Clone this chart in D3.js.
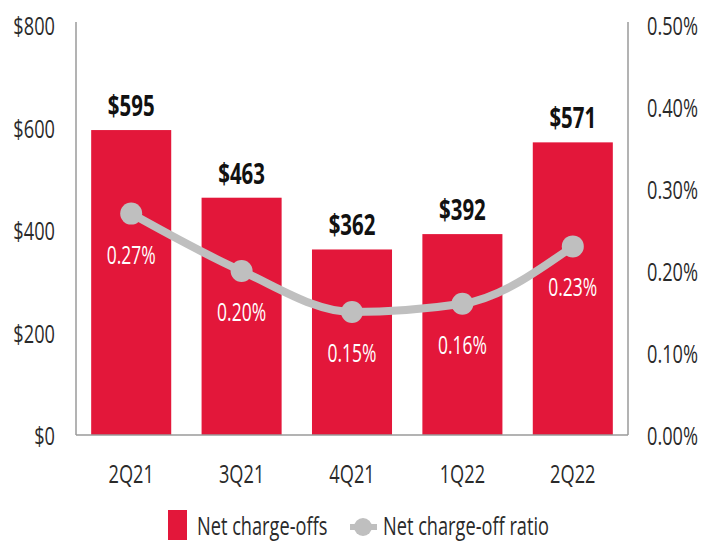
<!DOCTYPE html>
<html><head><meta charset="utf-8">
<script src="https://cdn.jsdelivr.net/npm/d3@7"></script>
<style>
html,body{margin:0;padding:0;background:#fff;}
text{font-family:"Open Sans",sans-serif;}
</style></head><body>
<svg id="c" width="702" height="543"></svg>
<script>
const categories = ["2Q21","3Q21","4Q21","1Q22","2Q22"];
const chargeOffs = [595,463,362,392,571];
const chargeOffLabels = ["$595","$463","$362","$392","$571"];
const ratios = [0.27,0.20,0.15,0.16,0.23];
const ratioLabels = ["0.27%","0.20%","0.15%","0.16%","0.23%"];
const leftTicks = [0,200,400,600,800];
const leftTickLabels = ["$0","$200","$400","$600","$800"];
const rightTicks = [0,0.1,0.2,0.3,0.4,0.5];
const rightTickLabels = ["0.00%","0.10%","0.20%","0.30%","0.40%","0.50%"];
const legendLabels = ["Net charge-offs","Net charge-off ratio"];

const RED = "#e3173a", GRAY = "#bfbfbf", TXT = "#2a2a2a";
const svg = d3.select("#c");
const x0 = 76, x1 = 628, yTop = 25, yBot = 435;
const x = d3.scaleBand().domain(categories).range([x0,x1]).paddingInner(0.275).paddingOuter(0.1375);
const yL = d3.scaleLinear().domain([0,800]).range([yBot,yTop]);
const yR = d3.scaleLinear().domain([0,0.5]).range([yBot,yTop]);

function cond(sel, f){
  sel.each(function(){
    const t = d3.select(this);
    const px = +t.attr("x"), py = +t.attr("y");
    t.attr("x",0).attr("y",0).attr("transform",`translate(${px},${py}) scale(${f},1)`);
  });
}
const F = 0.7;

// axes lines
svg.append("line").attr("x1",x0).attr("x2",x0).attr("y1",22).attr("y2",yBot).attr("stroke","#9a9a9a").attr("stroke-width",1.5);
svg.append("line").attr("x1",x1).attr("x2",x1).attr("y1",22).attr("y2",yBot).attr("stroke","#9a9a9a").attr("stroke-width",1.5);

// bars
svg.selectAll("rect.bar").data(categories).join("rect").attr("class","bar")
  .attr("x",d=>x(d)).attr("width",x.bandwidth())
  .attr("y",(d,i)=>yL(chargeOffs[i])).attr("height",(d,i)=>yBot-yL(chargeOffs[i]))
  .attr("fill",RED);
svg.append("line").attr("x1",x0).attr("x2",x1).attr("y1",yBot).attr("y2",yBot).attr("stroke","#9a9a9a").attr("stroke-width",1.5);

// value labels
svg.selectAll("text.val").data(categories).join("text").attr("class","val")
  .attr("x",d=>x(d)+x.bandwidth()/2).attr("y",(d,i)=>yL(chargeOffs[i])-14)
  .attr("text-anchor","middle").attr("font-size",28).attr("font-weight","bold").attr("fill","#111")
  .text((d,i)=>chargeOffLabels[i]).call(cond,0.73);

// line
const pts = categories.map((c,i)=>[x(c)+x.bandwidth()/2, yR(ratios[i])]);
svg.append("path").attr("d",d3.line().curve(d3.curveMonotoneX)(pts))
  .attr("fill","none").attr("stroke",GRAY).attr("stroke-width",8).attr("stroke-linecap","round");
svg.selectAll("circle.pt").data(pts).join("circle").attr("class","pt")
  .attr("cx",d=>d[0]).attr("cy",d=>d[1]).attr("r",11).attr("fill",GRAY);
svg.selectAll("text.pct").data(pts).join("text").attr("class","pct")
  .attr("x",d=>d[0]).attr("y",d=>d[1]+50)
  .attr("text-anchor","middle").attr("font-size",25).attr("fill","#fff")
  .text((d,i)=>ratioLabels[i]).call(cond,F);

// left tick labels
svg.selectAll("text.lt").data(leftTicks).join("text").attr("class","lt")
  .attr("x",55).attr("y",d=>yL(d)+10).attr("text-anchor","end")
  .attr("font-size",26).attr("fill",TXT).text((d,i)=>leftTickLabels[i]).call(cond,F);
// right tick labels
svg.selectAll("text.rt").data(rightTicks).join("text").attr("class","rt")
  .attr("x",647).attr("y",d=>yR(d)+10).attr("text-anchor","start")
  .attr("font-size",26).attr("fill",TXT).text((d,i)=>rightTickLabels[i]).call(cond,F);
// x labels
svg.selectAll("text.xl").data(categories).join("text").attr("class","xl")
  .attr("x",d=>x(d)+x.bandwidth()/2).attr("y",483).attr("text-anchor","middle")
  .attr("font-size",26).attr("fill",TXT).text(d=>d).call(cond,F);

// legend
svg.append("rect").attr("x",168).attr("y",510).attr("width",19).attr("height",30).attr("fill",RED);
svg.append("text").attr("x",197).attr("y",535).attr("font-size",26).attr("fill",TXT).text(legendLabels[0]).call(cond,F);
svg.append("line").attr("x1",350).attr("x2",377).attr("y1",527).attr("y2",527).attr("stroke",GRAY).attr("stroke-width",6);
svg.append("circle").attr("cx",363).attr("cy",527).attr("r",9).attr("fill",GRAY);
svg.append("text").attr("x",383).attr("y",535).attr("font-size",26).attr("fill",TXT).text(legendLabels[1]).call(cond,F);
</script></body></html>
